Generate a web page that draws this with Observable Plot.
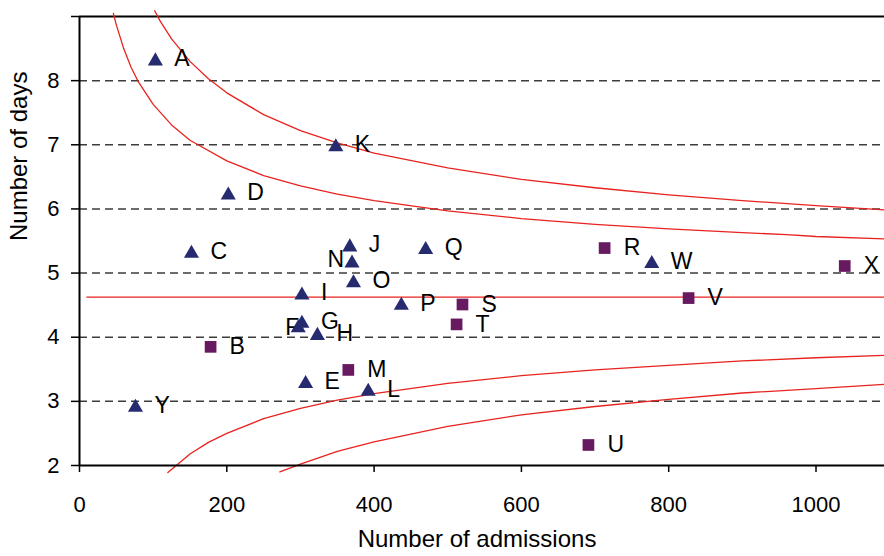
<!DOCTYPE html>
<html><head><meta charset="utf-8">
<script src="https://cdn.jsdelivr.net/npm/d3@7"></script>
<script src="https://cdn.jsdelivr.net/npm/@observablehq/plot@0.6"></script>
<style>html,body{margin:0;padding:0;background:#fff;}</style>
</head><body><div id="chart"></div>
<script>
// ---- data ----
const names      = ["A","B","C","D","E","F","G","H","I","J","K","L","M","N","O","P","Q","R","S","T","U","V","W","X","Y"];
const admissions = [103,178,152,202,307,297,302,323,302,367,348,392,365,370,372,437,470,713,520,512,691,827,777,1039,76];
const days       = [8.34,3.85,5.34,6.25,3.31,4.18,4.25,4.06,4.69,5.44,7.00,3.19,3.49,5.19,4.88,4.53,5.40,5.39,4.51,4.20,2.32,4.61,5.18,5.11,2.94];
const shapes     = ["tri","sq","tri","tri","tri","tri","tri","tri","tri","tri","tri","tri","sq","tri","tri","tri","tri","sq","sq","sq","sq","sq","tri","sq","tri"];

const meanDays = 4.625;
const meanStart = 10;
const xMax = 1093;

// control limit curves (admissions, days)
const upperInnerN = [46,50,60,70,80,100,125,150,200,250,300,350,400,500,600,700,800,900,960,1000,1100];
const upperInnerY = [9.05,8.87,8.50,8.21,7.98,7.63,7.31,7.07,6.75,6.52,6.36,6.23,6.13,5.97,5.85,5.76,5.69,5.63,5.60,5.57,5.53];
const upperOuterN = [102,110,125,150,175,200,250,300,350,400,500,600,700,800,900,1000,1100];
const upperOuterY = [9.09,8.92,8.65,8.30,8.03,7.81,7.47,7.22,7.03,6.87,6.64,6.46,6.33,6.22,6.13,6.05,5.98];
const lowerInnerN = [120,150,175,200,250,300,350,400,500,600,700,800,900,1000,1100];
const lowerInnerY = [1.89,2.18,2.36,2.50,2.73,2.89,3.02,3.12,3.28,3.40,3.49,3.56,3.63,3.68,3.72];
const lowerOuterN = [272,300,350,400,500,600,700,800,900,1000,1100];
const lowerOuterY = [1.90,2.02,2.22,2.37,2.61,2.79,2.92,3.03,3.13,3.20,3.27];

const xTicks = [0,200,400,600,800,1000];
const yTicks = [2,3,4,5,6,7,8,9];
const gridDays = [3,4,5,6,7,8];
const xTitle = "Number of admissions";
const yTitle = "Number of days";

// ---- build tables ----
const points = names.map((n,i) => ({name:n, x:admissions[i], y:days[i], shape:shapes[i]}));
const tri = points.filter(d => d.shape === "tri");
const sq = points.filter(d => d.shape === "sq");
const curve = (ns, ys, id) => ns.map((n,i) => ({x:n, y:ys[i], id}));
const curves = [
  ...curve(upperInnerN, upperInnerY, "ui"),
  ...curve(upperOuterN, upperOuterY, "uo"),
  ...curve(lowerInnerN, lowerInnerY, "li"),
  ...curve(lowerOuterN, lowerOuterY, "lo")
];
const leftLabelSet = new Set(["N","F"]);
const leftLabelOffsets = {N:{dx:-8, dy:-1}, F:{dx:1, dy:2}};

const red = "#e8231f";
const font = "Liberation Sans, Arial, sans-serif";

const chart = Plot.plot({
  width: 884, height: 556,
  marginLeft: 79, marginRight: 0, marginTop: 16, marginBottom: 91,
  style: {fontFamily: font, color: "black", background: "white"},
  x: {domain: [0, xMax]},
  y: {domain: [2, 9]},
  marks: [
    Plot.ruleY(gridDays, {stroke: "#3c3c3c", strokeWidth: 1.5, strokeDasharray: "8,5"}),
    Plot.ruleY([9], {stroke: "black", strokeWidth: 2}),
    Plot.ruleY([{y: meanDays, x1: meanStart, x2: xMax}], {y: "y", x1: "x1", x2: "x2", stroke: red, strokeWidth: 1.4}),
    Plot.line(curves, {x: "x", y: "y", z: "id", stroke: red, strokeWidth: 1.3}),
    Plot.ruleX([0], {stroke: "black", strokeWidth: 2}),
    Plot.ruleY([2], {stroke: "black", strokeWidth: 2}),
    Plot.axisX(xTicks, {tickSize: 7, tickPadding: 24, fontSize: 22, stroke: "black", strokeWidth: 1.5, label: null,
      tickFormat: d => String(d)}),
    Plot.axisY(yTicks, {tickSize: 8, tickPadding: 12, fontSize: 22, stroke: "black", strokeWidth: 1.5, label: null,
      tickFormat: d => d === 9 ? "" : String(d)}),
    Plot.text(points.filter(d => !leftLabelSet.has(d.name)), {x: "x", y: "y", text: "name", textAnchor: "start", dx: 19, fontSize: 23, fill: "black"}),
    ...["N","F"].map(n => Plot.text(points.filter(d => d.name === n), {x: "x", y: "y", text: "name", textAnchor: "end",
      dx: leftLabelOffsets[n].dx, dy: leftLabelOffsets[n].dy, fontSize: 23, fill: "black"})),
    Plot.dot(tri, {x: "x", y: "y", symbol: "triangle", r: 5.6, fill: "#262b6f", dy: 2.2}),
    Plot.dot(sq, {x: "x", y: "y", symbol: "square", r: 6.6, fill: "#681a61"}),
    Plot.text([xTitle], {text: d => d, frameAnchor: "bottom", dy: 81, dx: -5, fontSize: 24, fill: "black"}),
    Plot.text([yTitle], {text: d => d, frameAnchor: "left", dx: -60, rotate: -90, fontSize: 24, fill: "black"})
  ]
});
document.getElementById("chart").appendChild(chart);
</script>
</body></html>
